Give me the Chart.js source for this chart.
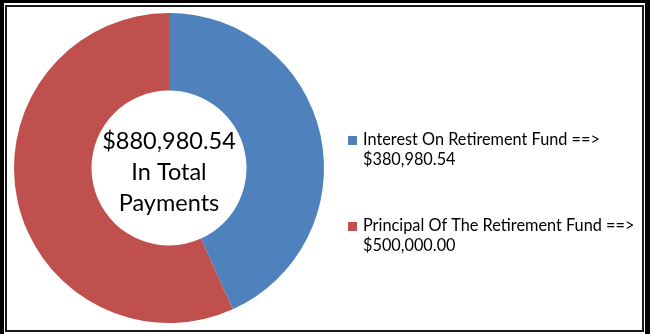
<!DOCTYPE html>
<html>
<head>
<meta charset="utf-8">
<script src="https://cdn.jsdelivr.net/npm/chart.js@4.4.1/dist/chart.umd.min.js"></script>
<style>
    html, body { margin: 0; padding: 0; background: #fff; }
    #wrap { position: relative; width: 650px; height: 334px; overflow: hidden; }
    .band { position: absolute; background: #000; }
    #frame { position: absolute; left: 5px; top: 5px; width: 635px; height: 323px; border: 2px solid #1a1a1a; }
    canvas { position: absolute; left: 0; top: 0; }
</style>
</head>
<body>
<div id="wrap">
    <div class="band" style="left:0;top:0;width:650px;height:3px"></div>
    <div class="band" style="left:0;top:0;width:4px;height:334px"></div>
    <div class="band" style="left:645px;top:0;width:5px;height:334px"></div>
    <div id="frame"></div>
    <canvas id="chart" width="650" height="334"></canvas>
</div>
<script>
var labels = ["Interest On Retirement Fund", "Principal Of The Retirement Fund"]
var values = [380980.54, 500000.00]
var colors = ["#4F81BD", "#C0504D"]
var centerLines = ["In Total", "Payments"]

function money(v) {
    return "$" + v.toLocaleString("en-US", { minimumFractionDigits: 2, maximumFractionDigits: 2 })
}

var total = values.reduce((a, b) => a + b, 0)

// total in the hole of the ring
var centerText = {
    id: "centerText",
    afterDraw: function (chart) {
        var meta = chart.getDatasetMeta(0).data[0]
        var ctx = chart.ctx
        ctx.save()
        ctx.fillStyle = "#000"
        ctx.font = "23.5px Lato, sans-serif"
        ctx.textAlign = "center"
        ctx.textBaseline = "middle"
        var lines = [money(total)].concat(centerLines)
        lines.forEach((t, i) => {
            ctx.fillText(t, meta.x, meta.y - 27 + i * 31)
        })
        ctx.restore()
    }
}

// two-line legend on the right
var sideLegend = {
    id: "sideLegend",
    afterDraw: function (chart) {
        var ctx = chart.ctx
        ctx.save()
        ctx.font = "16.3px Lato, sans-serif"
        ctx.textBaseline = "middle"
        ctx.textAlign = "left"
        labels.forEach((name, i) => {
            var y = 140 + i * 86
            ctx.fillStyle = colors[i]
            ctx.fillRect(348, y - 4, 9, 9)
            ctx.fillStyle = "#000"
            ctx.fillText(name + " ==>", 363, y)
            ctx.fillText(money(values[i]), 363, y + 20)
        })
        ctx.restore()
    }
}

new Chart(document.getElementById("chart"), {
    type: "doughnut",
    data: {
        labels: labels,
        datasets: [{
            data: values,
            backgroundColor: colors,
            borderWidth: 0
        }]
    },
    options: {
        responsive: false,
        animation: false,
        cutout: "50%",
        layout: { padding: { left: 14, top: 13, right: 326, bottom: 11 } },
        plugins: { legend: { display: false }, tooltip: { enabled: false } }
    },
    plugins: [centerText, sideLegend]
})
</script>
</body>
</html>
